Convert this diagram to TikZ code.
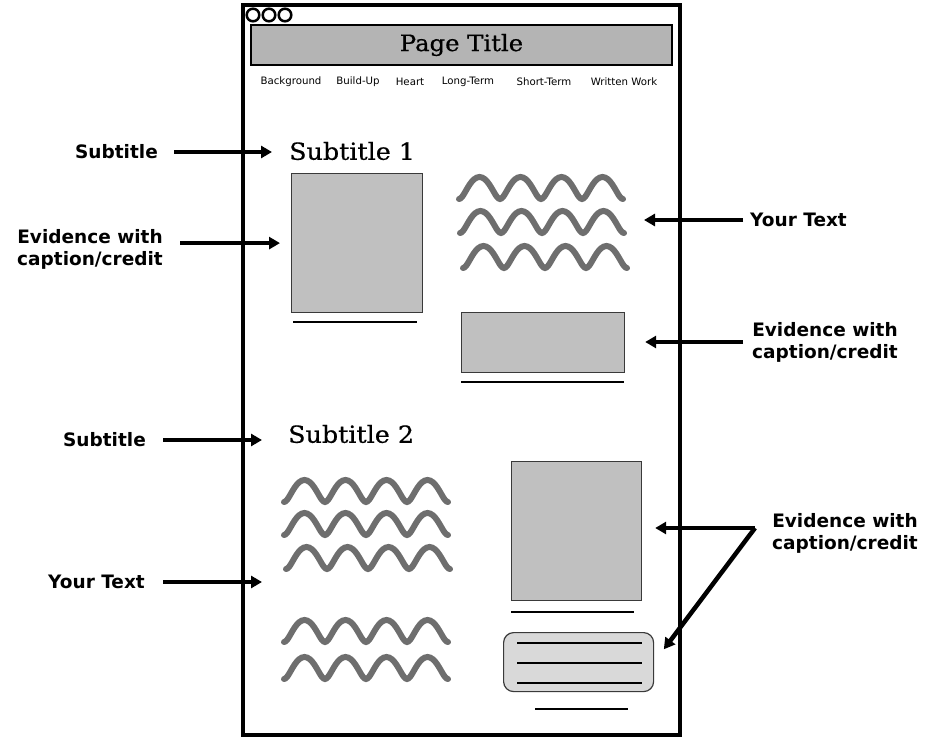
\documentclass[tikz,border=0pt]{standalone}
\usepackage{fontspec}
\usepackage{tikz}
\usetikzlibrary{arrows.meta}
\setmainfont{DejaVu Serif}
\newfontfamily\headfont{DejaVu Serif}[FakeBold=0.6, FakeStretch=1.08]
\newfontfamily\labelfont{DejaVu Sans}
\newfontfamily\navfont{DejaVu Sans}

\definecolor{barfill}{HTML}{B4B4B4}
\definecolor{boxfill}{HTML}{C0C0C0}
\definecolor{roundfill}{HTML}{D9D9D9}
\definecolor{squiggray}{HTML}{6E6E6E}
\definecolor{boxedge}{HTML}{3A3A3A}

\begin{document}
\begin{tikzpicture}[x=1pt, y=-1pt,
	frame/.style={line width=4},
	arr/.style={line width=4.5, -{Triangle[length=11pt,width=12pt]}},
	lbl/.style={font=\labelfont\bfseries\fontsize{18.5}{22}\selectfont, align=center, inner sep=0},
	subtitle/.style={font=\headfont\fontsize{23.5}{26}\selectfont, inner sep=0, anchor=west},
	imgbox/.style={draw=boxedge, line width=1.2, fill=boxfill, anchor=north west, inner sep=0},
	capline/.style={line width=2.5},
	squigline/.style={squiggray, line width=6, line cap=round},
	squig/.pic={\draw[squigline] plot[domain=0:164, samples=81, smooth] ({\x-1.8*sin(8.7805*\x)},{11*cos(8.7805*\x)});}
	]
	\useasboundingbox (0,0) rectangle (940,738);
	%page
	\draw[frame] (243,5) rectangle (680,735);
	\foreach \cx in {253,269,285}
	\draw[line width=2.5] (\cx,15) circle (6.3);
	\node[draw, line width=2.5, fill=barfill, minimum width=421, minimum height=40,
		font=\headfont\fontsize{22.5}{26}\selectfont] (title) at (461.5,45) {Page Title};
	%menu
	\foreach \n/\cx/\item in {
		1/291/Background,
		2/358/Build-Up,
		3/410/Heart,
		4/468/Long-Term,
		5/544/Short-Term,
		6/624/Written Work
	}
	\node[font=\navfont\fontsize{10.2}{12}\selectfont, inner sep=0] (nav\n) at (\cx,82) {\item};
	%section 1
	\node[subtitle] (sub1) at (289,151) {Subtitle 1};
	\node[imgbox, minimum width=131, minimum height=139] (ev1) at (291,173) {};
	\draw[capline] (293,322) -- (417,322);
	\foreach \sx/\sy in {459/188, 460/222, 463/257}
	\pic at (\sx,\sy) {squig};
	\coordinate (txt1) at (623,219);
	\node[imgbox, minimum width=163, minimum height=60] (ev2) at (461,312) {};
	\draw[capline] (461,382) -- (624,382);
	%section 2
	\node[subtitle] (sub2) at (288,434) {Subtitle 2};
	\foreach \sx/\sy in {284/491, 284/524, 286/558, 284/631, 284/668}
	\pic at (\sx,\sy) {squig};
	\coordinate (txt2) at (283,582);
	\node[imgbox, minimum width=130, minimum height=139] (ev3) at (511,461) {};
	\draw[capline] (511,612) -- (634,612);
	\node[imgbox, fill=roundfill, rounded corners=10, minimum width=150, minimum height=59] (ev4) at (503,632) {};
	\foreach \ly in {643,663,683}
	\draw[capline] (517,\ly) -- (642,\ly);
	\draw[capline] (535,709) -- (628,709);
	%labels
	\node[lbl, anchor=east] (lsub1) at (158,152) {Subtitle};
	\node[lbl, anchor=east] (lev1) at (163,249) {Evidence with\\caption/credit};
	\node[lbl, anchor=west] (ltxt1) at (750,220) {Your Text};
	\node[lbl, anchor=west] (lev2) at (752,342) {Evidence with\\caption/credit};
	\node[lbl, anchor=east] (lsub2) at (146,440) {Subtitle};
	\node[lbl, anchor=east] (ltxt2) at (145,582) {Your Text};
	\node[lbl, anchor=west] (lev3) at (772,533) {Evidence with\\caption/credit};
	\coordinate (fork) at (755,528);
	%arrows
	\draw[arr, shorten <=16pt, shorten >=17pt] (lsub1.east) -- (lsub1.east -| sub1.west);
	\draw[arr, shorten <=17pt, shorten >=11pt] (lev1.east |- ev1.west) -- (ev1.west);
	\draw[arr, shorten <=7pt, shorten >=21pt] (ltxt1.west) -- (ltxt1.west -| txt1);
	\draw[arr, shorten <=9pt, shorten >=20pt] (lev2.west) -- (lev2.west -| ev2.east);
	\draw[arr, shorten <=17pt, shorten >=26pt] (lsub2.east) -- (lsub2.east -| sub2.west);
	\draw[arr, shorten <=18pt, shorten >=21pt] (ltxt2.east) -- (txt2);
	\draw[arr, shorten >=13pt] (fork) -- (fork -| ev3.east);
	\draw[arr, shorten >=16pt] (fork) -- (ev4.east);
\end{tikzpicture}
\end{document}
